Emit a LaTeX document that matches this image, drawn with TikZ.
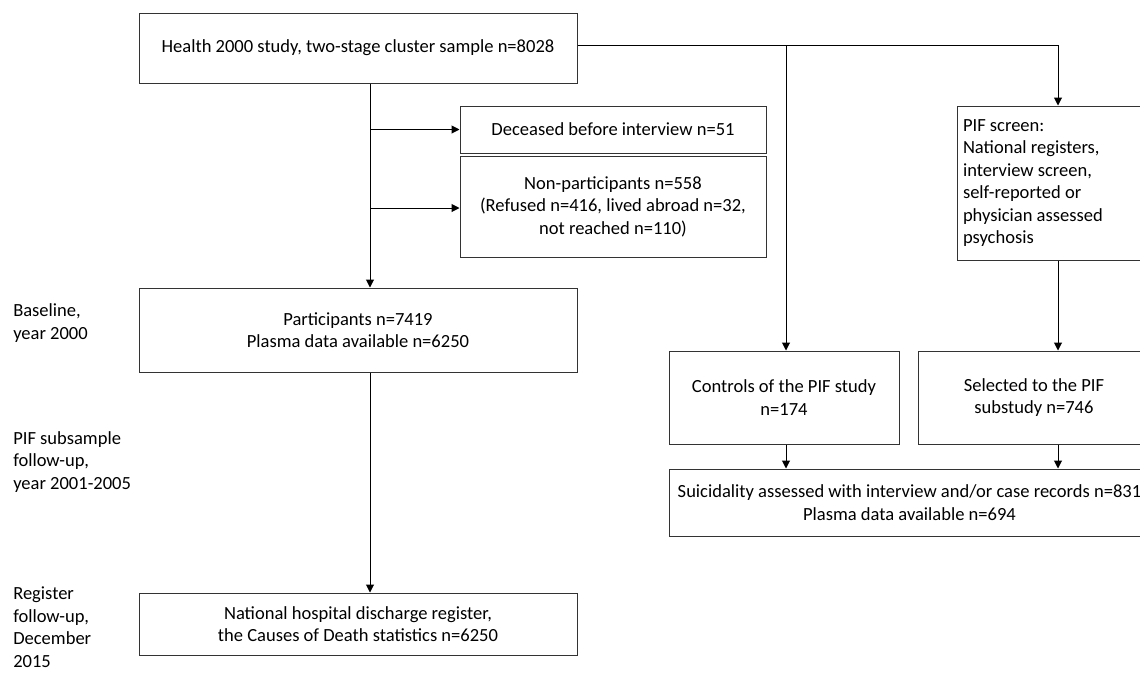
\documentclass[tikz,border=0pt]{standalone}
\usepackage{fontspec}
\setmainfont{Carlito}
\usetikzlibrary{arrows.meta,calc}
\begin{document}
\begin{tikzpicture}[x=0.75pt,y=-0.75pt,
  txt/.style={font=\fontsize{13.9}{16.9}\selectfont},
  box/.style={txt, draw=black!80, line width=0.75pt, align=center, inner sep=0pt},
  lbl/.style={txt, align=left, anchor=west, inner sep=0pt},
  arr/.style={draw=black, line width=0.75pt, -{Triangle[width=6pt,length=6pt]}},
  ln/.style={draw=black, line width=0.75pt}]
\useasboundingbox (0,0) rectangle (1140,672);
\clip (0,0) rectangle (1140,672);
% boxes
\node[box, minimum width=328.5pt, minimum height=52.5pt] (top) at (358,48) {Health 2000 study, two-stage cluster sample n=8028};
\node[box, minimum width=229.5pt, minimum height=35.25pt] (dec) at (613,129.5) {Deceased before interview n=51};
\node[box, minimum width=229.5pt, minimum height=75.75pt] (non) at (613,206.5) {Non-participants n=558\\(Refused n=416, lived abroad n=32,\\not reached n=110)};
\node[box, minimum width=328.5pt, minimum height=63pt] (part) at (358,330) {Participants n=7419\\Plasma data available n=6250};
\node[box, minimum width=328.5pt, minimum height=46.5pt] (reg) at (358,624) {National hospital discharge register,\\the Causes of Death statistics n=6250};
\node[box, align=flush left, text width=135.75pt, inner xsep=4.5pt, minimum height=115.5pt] (pif) at (1053.5,183) {PIF screen:\\National registers,\\interview screen,\\self-reported or\\physician assessed\\psychosis};
\node[box, minimum width=172.5pt, minimum height=69.75pt] (ctrl) at (784,397.5) {Controls of the PIF study\\n=174};
\node[box, minimum width=174pt, minimum height=69.75pt] (sel) at (1034,397.5) {Selected to the PIF\\substudy n=746};
\node[box, minimum width=360.75pt, minimum height=50.25pt] (sui) at (909.5,502.5) {Suicidality assessed with interview and/or case records n=831\\Plasma data available n=694};
% side labels
\node[lbl] (l1) at (13,323) {Baseline,\\year 2000};
\node[lbl] (l2) at (13,462) {PIF subsample\\follow-up,\\year 2001-2005};
\node[lbl] (l3) at (13,627) {Register\\follow-up,\\December\\2015};
% helper coordinates
\coordinate (tx) at (370,0);
\coordinate (bx) at (786,0);
\coordinate (px) at (1058,0);
% connectors
\draw[arr] (top.south -| tx) -- (part.north -| tx);
\draw[arr] (dec.west -| tx) -- (dec.west);
\draw[arr] ($(non.west -| tx)+(0,1.5)$) -- ($(non.west)+(0,1.5)$);
\draw[arr] (top.east |- 0,45.7) -| (pif.north -| px);
\draw[arr] (bx |- 0,45.7) -- (ctrl.north -| bx);
\draw[arr] (pif.south -| px) -- (sel.north -| px);
\draw[arr] (ctrl.south -| bx) -- (sui.north -| bx);
\draw[arr] (sel.south -| px) -- (sui.north -| px);
\draw[arr] (part.south -| tx) -- (reg.north -| tx);
\end{tikzpicture}
\end{document}
